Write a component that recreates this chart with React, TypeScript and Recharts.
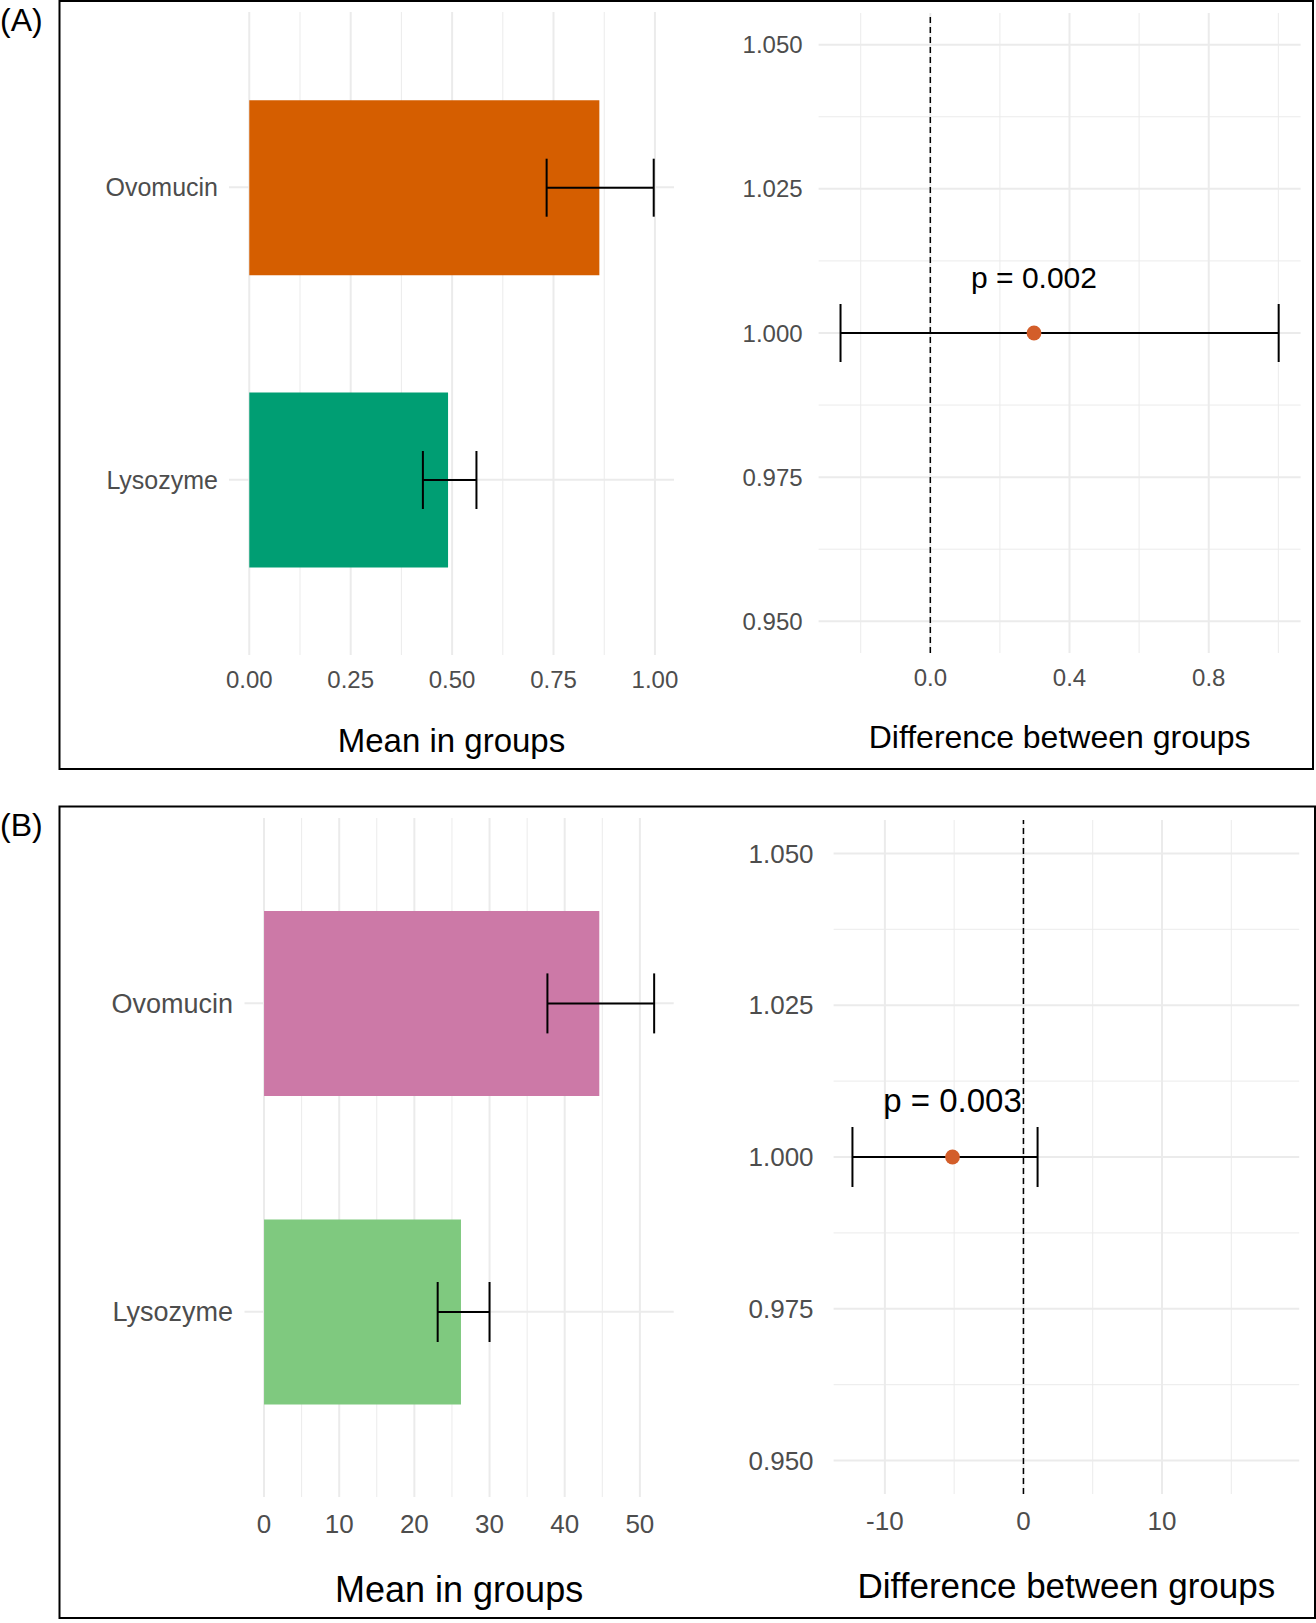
import {
  ComposedChart,
  Bar,
  Cell,
  ErrorBar,
  Scatter,
  XAxis,
  YAxis,
  CartesianGrid,
  ReferenceLine,
  LabelList,
} from "recharts";

const FONT = '"Liberation Sans", Arial, Helvetica, sans-serif';

// shared categories
const groups = ["Ovomucin", "Lysozyme"];

// (A) means with error bar ends
const meanA = [0.863, 0.49];
const lowA = [0.733, 0.428];
const highA = [0.997, 0.56];
const colorsA = ["#D55E00", "#009E73"];

// (A) difference between groups
const diffA = 0.298;
const diffLowA = -0.258;
const diffHighA = 1.001;
const pLabelA = "p = 0.002";

// (B) means with error bar ends
const meanB = [44.6, 26.2];
const lowB = [37.7, 23.1];
const highB = [51.9, 30.0];
const colorsB = ["#CC79A7", "#7FC97F"];

// (B) difference between groups
const diffB = -5.12;
const diffLowB = -12.34;
const diffHighB = 1.02;
const pLabelB = "p = 0.003";

// axis ticks
const ticksMeanA = [0, 0.25, 0.5, 0.75, 1];
const minorMeanA = [0.125, 0.375, 0.625, 0.875];
const ticksDiffA = [0, 0.4, 0.8];
const minorDiffA = [-0.2, 0.2, 0.6, 1.0];
const ticksMeanB = [0, 10, 20, 30, 40, 50];
const minorMeanB = [5, 15, 25, 35, 45];
const ticksDiffB = [-10, 0, 10];
const minorDiffB = [-5, 5, 15];
const ticksY = [0.95, 0.975, 1, 1.025, 1.05];
const minorY = [0.9625, 0.9875, 1.0125, 1.0375];

const GRID = "#EBEBEB";
const TICK = "#4D4D4D";
const DOT = "#D35E2A";

function MeanPanel(props: any) {
  const {
    left, top, width, height, margin, axisW, domain, ticks, minor, digits,
    means, lows, highs, colors, barSize, pad, fs, catFs, titleFs, titleOffset,
    xTickGap, yTickGap, cap, plotH,
  } = props;
  const rows = groups.map((g, i) => ({
    group: g,
    mean: means[i],
    err: [means[i] - lows[i], highs[i] - means[i]],
  }));
  return (
    <div style={{ position: "absolute", left, top }}>
      <ComposedChart
        width={width}
        height={height}
        data={rows}
        layout="vertical"
        margin={margin}
        style={{ fontFamily: FONT }}
      >
        <CartesianGrid stroke={GRID} strokeWidth={1} horizontal={false} verticalValues={minor} syncWithTicks />
        <CartesianGrid stroke={GRID} strokeWidth={2} syncWithTicks />
        <XAxis
          type="number"
          domain={domain}
          allowDataOverflow
          ticks={ticks}
          interval={0}
          tickFormatter={(v: number) => v.toFixed(digits)}
          axisLine={false}
          tickLine={false}
          tickSize={0}
          tickMargin={xTickGap}
          tick={{ fontSize: fs, fill: TICK }}
          height={height - margin.top - plotH}
          label={{
            value: "Mean in groups",
            position: "insideBottom",
            offset: titleOffset,
            fontSize: titleFs,
            fill: "#000",
          }}
        />
        <YAxis
          type="category"
          dataKey="group"
          width={axisW}
          padding={{ top: pad, bottom: pad }}
          axisLine={false}
          tickLine={false}
          tickSize={0}
          tickMargin={yTickGap}
          tick={{ fontSize: catFs, fill: TICK }}
        />
        <Bar dataKey="mean" barSize={barSize} isAnimationActive={false}>
          {rows.map((r, i) => (
            <Cell key={r.group} fill={colors[i]} />
          ))}
          <ErrorBar dataKey="err" direction="x" width={cap} stroke="#000" strokeWidth={2} />
        </Bar>
      </ComposedChart>
    </div>
  );
}

function Dot(p: any) {
  return <circle cx={p.cx} cy={p.cy} r={7.4} fill={DOT} />;
}

function DiffPanel(props: any) {
  const {
    left, top, width, height, margin, axisW, domain, ticks, minor, digits,
    diff, lo, hi, pLabel, pFs, fs, titleFs, titleOffset, xTickGap, yTickGap, cap, plotH,
  } = props;
  const pts = [{ x: diff, y: 1, err: [diff - lo, hi - diff], p: pLabel }];
  const renderP = (p: any) => {
    const vb = p.viewBox || p;
    const cx = vb.x + (vb.width || 0) / 2;
    const cy = vb.y + (vb.height || 0) / 2;
    return (
      <text x={cx} y={cy - 45} textAnchor="middle" fontSize={pFs} fill="#000" fontFamily={FONT}>
        {p.value}
      </text>
    );
  };
  return (
    <div style={{ position: "absolute", left, top }}>
      <ComposedChart width={width} height={height} margin={margin} style={{ fontFamily: FONT }}>
        <CartesianGrid stroke={GRID} strokeWidth={1} verticalValues={minor} horizontalValues={minorY} syncWithTicks />
        <CartesianGrid stroke={GRID} strokeWidth={2} syncWithTicks />
        <XAxis
          type="number"
          dataKey="x"
          domain={domain}
          allowDataOverflow
          ticks={ticks}
          interval={0}
          tickFormatter={(v: number) => v.toFixed(digits)}
          axisLine={false}
          tickLine={false}
          tickSize={0}
          tickMargin={xTickGap}
          tick={{ fontSize: fs, fill: TICK }}
          height={height - margin.top - plotH}
          label={{
            value: "Difference between groups",
            position: "insideBottom",
            offset: titleOffset,
            fontSize: titleFs,
            fill: "#000",
          }}
        />
        <YAxis
          type="number"
          dataKey="y"
          domain={[0.9445, 1.0555]}
          allowDataOverflow
          ticks={ticksY}
          interval={0}
          tickFormatter={(v: number) => v.toFixed(3)}
          width={axisW}
          axisLine={false}
          tickLine={false}
          tickSize={0}
          tickMargin={yTickGap}
          tick={{ fontSize: fs, fill: TICK }}
        />
        <ReferenceLine x={0} stroke="#000" strokeWidth={1.5} strokeDasharray="6 4" />
        <Scatter data={pts} fill={DOT} shape={Dot} isAnimationActive={false}>
          <ErrorBar dataKey="err" direction="x" width={cap} stroke="#000" strokeWidth={2} />
          <LabelList dataKey="p" content={renderP} />
        </Scatter>
      </ComposedChart>
    </div>
  );
}

export default function App() {
  return (
    <div style={{ position: "absolute", left: 0, top: 0, width: 1316, height: 1623, background: "#fff" }}>
      <svg width={1316} height={1623} style={{ position: "absolute", left: 0, top: 0 }}>
        <rect x={59.5} y={1} width={1253.5} height={768} fill="none" stroke="#000" strokeWidth={2} />
        <rect x={59.5} y={806.5} width={1255.5} height={811.5} fill="none" stroke="#000" strokeWidth={2} />
        <text x={0} y={31} fontSize={32} fontFamily={FONT} fill="#000">(A)</text>
        <text x={0} y={836} fontSize={32} fontFamily={FONT} fill="#000">(B)</text>
      </svg>

      <MeanPanel
        left={0}
        top={0}
        width={700}
        height={770}
        margin={{ top: 12, right: 26, bottom: 0, left: 0 }}
        plotH={643}
        axisW={229}
        domain={[-0.05, 1.047]}
        ticks={ticksMeanA}
        minor={minorMeanA}
        digits={2}
        means={meanA}
        lows={lowA}
        highs={highA}
        colors={colorsA}
        barSize={175}
        pad={29.2}
        fs={24}
        catFs={25}
        titleFs={33}
        titleOffset={18}
        xTickGap={16}
        yTickGap={11}
        cap={29}
      />
      <DiffPanel
        left={700}
        top={0}
        width={616}
        height={770}
        margin={{ top: 13, right: 15.4, bottom: 0, left: 0 }}
        plotH={640}
        axisW={118.6}
        domain={[-0.321, 1.064]}
        ticks={ticksDiffA}
        minor={minorDiffA}
        digits={1}
        diff={diffA}
        lo={diffLowA}
        hi={diffHighA}
        pLabel={pLabelA}
        pFs={30}
        fs={24}
        titleFs={32}
        titleOffset={22}
        xTickGap={16}
        yTickGap={16}
        cap={29}
      />
      <MeanPanel
        left={0}
        top={800}
        width={700}
        height={823}
        margin={{ top: 18, right: 26.3, bottom: 0, left: 0 }}
        plotH={679}
        axisW={244.5}
        domain={[-2.6, 54.5]}
        ticks={ticksMeanB}
        minor={minorMeanB}
        digits={0}
        means={meanB}
        lows={lowB}
        highs={highB}
        colors={colorsB}
        barSize={185}
        pad={30.9}
        fs={26}
        catFs={27}
        titleFs={36}
        titleOffset={21}
        xTickGap={18}
        yTickGap={11.5}
        cap={30}
      />
      <DiffPanel
        left={700}
        top={800}
        width={616}
        height={823}
        margin={{ top: 20, right: 16.8, bottom: 0, left: 0 }}
        plotH={674}
        axisW={133.6}
        domain={[-13.7, 19.9]}
        ticks={ticksDiffB}
        minor={minorDiffB}
        digits={0}
        diff={diffB}
        lo={diffLowB}
        hi={diffHighB}
        pLabel={pLabelB}
        pFs={33}
        fs={26}
        titleFs={35}
        titleOffset={25}
        xTickGap={18}
        yTickGap={20}
        cap={30}
      />
    </div>
  );
}
